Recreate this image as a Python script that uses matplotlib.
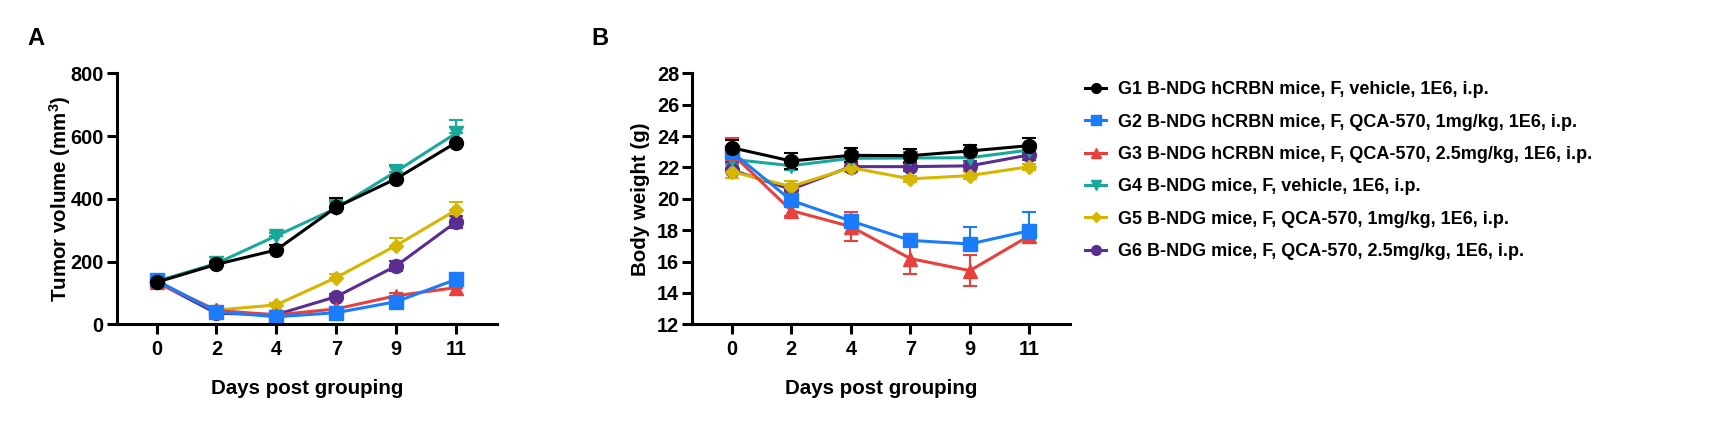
import numpy as np
import matplotlib
matplotlib.use("Agg")
import matplotlib.pyplot as plt
from matplotlib.lines import Line2D

plt.rcParams['font.family'] = ['Liberation Sans', 'DejaVu Sans']
plt.rcParams['font.weight'] = 'bold'
plt.rcParams['mathtext.fontset'] = 'custom'
plt.rcParams['mathtext.bf'] = 'Liberation Sans:bold'
plt.rcParams['mathtext.rm'] = 'Liberation Sans:bold'
plt.rcParams['mathtext.default'] = 'bf'

days = ['0', '2', '4', '7', '9', '11']

groups = [
    'G1 B-NDG hCRBN mice, F, vehicle, 1E6, i.p.',
    'G2 B-NDG hCRBN mice, F, QCA-570, 1mg/kg, 1E6, i.p.',
    'G3 B-NDG hCRBN mice, F, QCA-570, 2.5mg/kg, 1E6, i.p.',
    'G4 B-NDG mice, F, vehicle, 1E6, i.p.',
    'G5 B-NDG mice, F, QCA-570, 1mg/kg, 1E6, i.p.',
    'G6 B-NDG mice, F, QCA-570, 2.5mg/kg, 1E6, i.p.',
]
colors = ['#000000', '#1a7cfa', '#e8413c', '#19a99b', '#d6b600', '#5a2d91']
markers = ['o', 's', '^', 'v', 'D', 'o']
msizes = [10, 9.5, 9.5, 9.5, 7.5, 10]

# tumor volume (mm3), mean and sem
tv_mean = [
    [134, 191, 237, 373, 464, 579],
    [140, 40, 24, 37, 72, 143],
    [135, 44, 30, 49, 91, 117],
    [137, 194, 282, 370, 487, 609],
    [135, 45, 62, 149, 251, 364],
    [135, 35, 31, 88, 186, 326],
]
tv_sem = [
    [8, 8, 15, 29, 42, 51],
    [8, 5, 4, 5, 8, 10],
    [8, 5, 4, 6, 8, 8],
    [8, 8, 10, 25, 20, 42],
    [8, 5, 6, 10, 23, 25],
    [8, 5, 5, 8, 17, 20],
]

# body weight (g), mean and sem
bw_mean = [
    [23.26, 22.41, 22.77, 22.75, 23.05, 23.39],
    [23.0, 19.9, 18.59, 17.35, 17.12, 17.97],
    [22.9, 19.25, 18.23, 16.19, 15.42, 17.65],
    [22.52, 22.11, 22.58, 22.60, 22.62, 23.11],
    [21.73, 20.78, 21.99, 21.27, 21.48, 22.05],
    [21.84, 20.6, 22.05, 22.05, 22.10, 22.80],
]
bw_sem = [
    [0.5, 0.5, 0.45, 0.45, 0.38, 0.5],
    [0.3, 0.3, 0.3, 0.3, 1.1, 1.2],
    [0.95, 0.35, 0.95, 1.0, 0.97, 0.2],
    [0.3, 0.3, 0.3, 0.3, 0.3, 0.3],
    [0.4, 0.35, 0.3, 0.2, 0.2, 0.2],
    [0.5, 0.3, 0.3, 0.3, 0.3, 0.3],
]

fig = plt.figure(figsize=(17.26, 4.43), dpi=100)
axA = fig.add_axes([117/1726, 118.7/443, (496.7-117)/1726, 251/443])
axB = fig.add_axes([692.3/1726, 118.7/443, (1070-692.3)/1726, 251/443])

x = np.arange(len(days))


def draw(ax, means, sems, upper_only=()):
    for i in reversed(range(len(groups))):
        m = np.array(means[i])
        s = np.array(sems[i])
        lower = np.zeros_like(s) if i in upper_only else s
        ax.errorbar(x, m, yerr=[lower, s], color=colors[i], marker=markers[i],
                    markersize=msizes[i], lw=2.2, elinewidth=1.5, capsize=5,
                    capthick=1.5, ecolor=colors[i])


def style(ax, ylim, yticks, ylabel, ypad=5):
    ax.set_xlim(-0.66, 5.68)
    ax.set_ylim(*ylim)
    ax.set_yticks(yticks)
    ax.set_xticks(x)
    ax.set_xticklabels(days)
    for sp in ['top', 'right']:
        ax.spines[sp].set_visible(False)
    for sp in ['left', 'bottom']:
        ax.spines[sp].set_linewidth(2.2)
    ax.tick_params(axis='both', width=2.2, length=7.5, labelsize=14.3)
    ax.tick_params(axis='x', pad=4)
    ax.tick_params(axis='y', pad=2)
    ax.set_xlabel('Days post grouping', fontsize=14.8, fontweight='bold', labelpad=14)
    ax.set_ylabel(ylabel, fontsize=14.8, fontweight='bold', labelpad=ypad)


draw(axA, tv_mean, tv_sem, upper_only=(0, 1, 2, 3, 4))
style(axA, (0, 800), [0, 200, 400, 600, 800], r'Tumor volume (mm$^{3}$)', ypad=-2)

draw(axB, bw_mean, bw_sem, upper_only=(1,))
style(axB, (12, 28), np.arange(12, 29, 2), 'Body weight (g)')

fig.text(27/1726, 1 - 45/443, 'A', fontsize=17, fontweight='bold')
fig.text(591/1726, 1 - 45/443, 'B', fontsize=17, fontweight='bold')

handles = [Line2D([], [], color=colors[i], marker=markers[i], markersize=msizes[i]*0.7,
                  lw=2.2) for i in range(len(groups))]
fig.legend(handles, groups, loc='upper left', bbox_to_anchor=(1078/1726, 1 - 74/443),
           frameon=False, handlelength=1.15, handletextpad=0.65,
           labelspacing=0.85, borderaxespad=0, prop={'weight': 'bold', 'size': 13})

fig.savefig('out.png', dpi=100)
